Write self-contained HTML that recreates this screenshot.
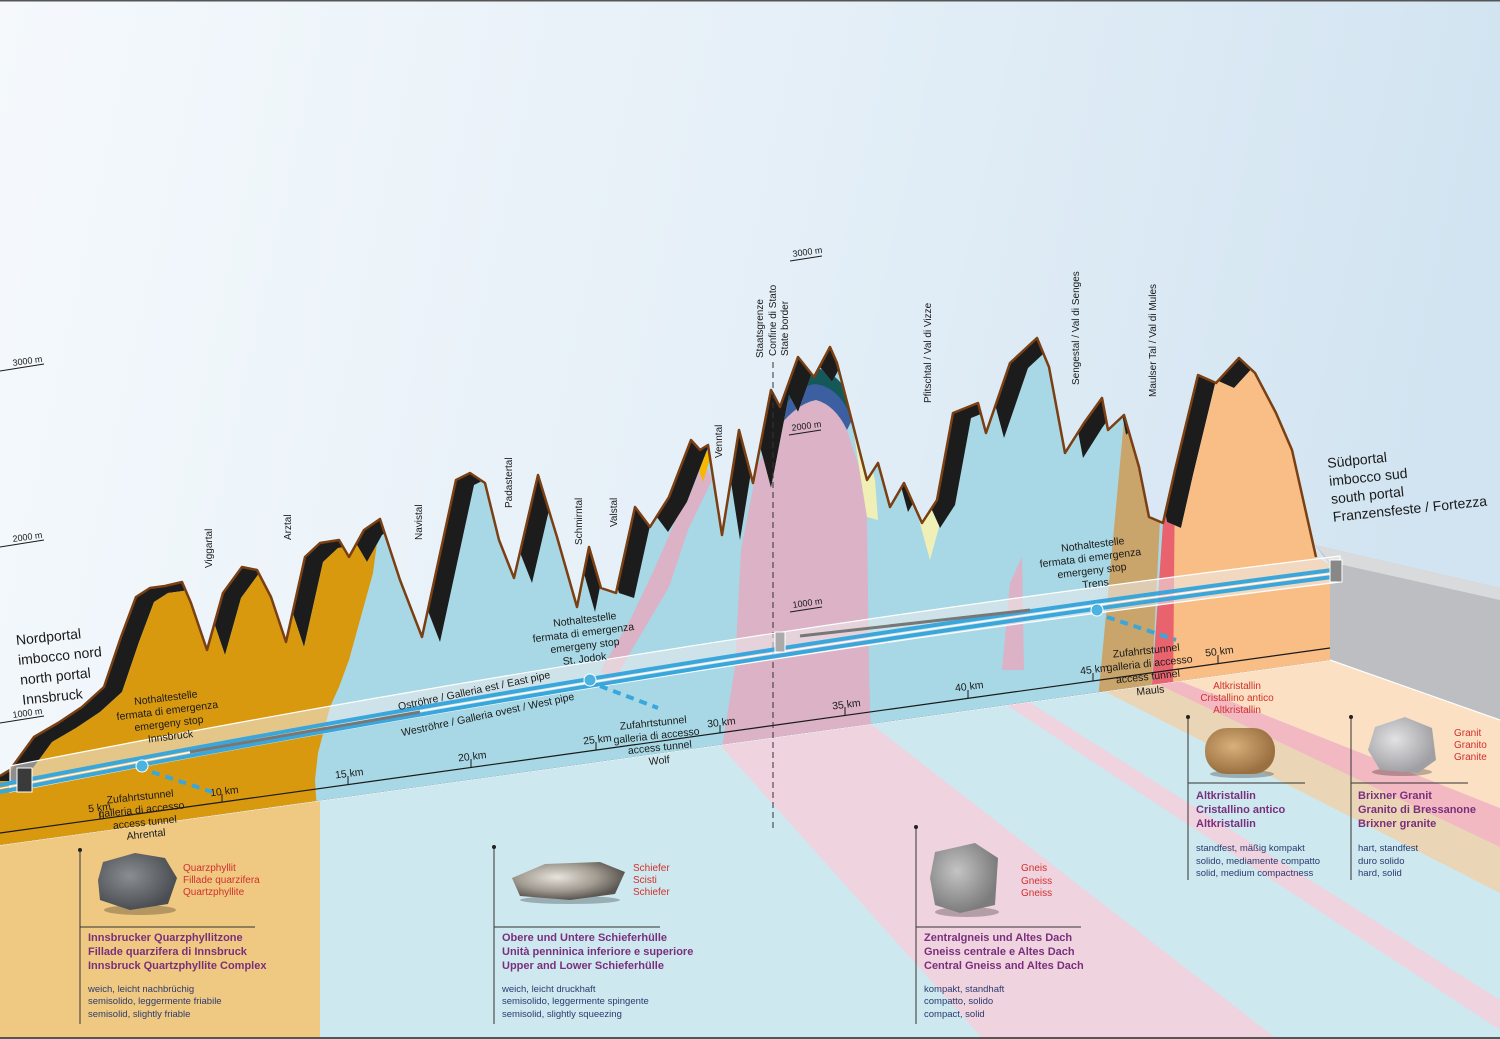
<!DOCTYPE html>
<html><head><meta charset="utf-8"><style>
html,body{margin:0;padding:0;width:1500px;height:1039px;overflow:hidden;}
svg{display:block;}
text{font-family:"Liberation Sans",sans-serif;}
.lb{font-size:10px;fill:#1a1a1a;}
.km{font-size:10.5px;fill:#1a1a1a;}
.red{font-size:10px;fill:#d2302c;}
.ttl{font-size:11px;font-weight:bold;fill:#7a2f7d;}
.dsc{font-size:9.5px;fill:#2b3b6e;}
.em{font-size:10.5px;fill:#1a1a1a;}
.port{font-size:14px;fill:#1a1a1a;}
</style></head><body>
<svg width="1500" height="1039" viewBox="0 0 1500 1039" xmlns="http://www.w3.org/2000/svg">
<defs>
<linearGradient id="sky" x1="0" y1="0" x2="1" y2="0.15">
<stop offset="0" stop-color="#f5f9fc"/><stop offset="0.5" stop-color="#e6f0f8"/><stop offset="1" stop-color="#d2e4f1"/>
</linearGradient>
<radialGradient id="rk1" cx="0.4" cy="0.4" r="0.6"><stop offset="0" stop-color="#8a8d92"/><stop offset="1" stop-color="#4a4d52"/></radialGradient>
<radialGradient id="rk2" cx="0.4" cy="0.4" r="0.6"><stop offset="0" stop-color="#e8e4dc"/><stop offset="0.6" stop-color="#a09a90"/><stop offset="1" stop-color="#5a5550"/></radialGradient>
<radialGradient id="rk3" cx="0.4" cy="0.4" r="0.6"><stop offset="0" stop-color="#c4c4c4"/><stop offset="1" stop-color="#7c7c7c"/></radialGradient>
<radialGradient id="rk4" cx="0.4" cy="0.4" r="0.6"><stop offset="0" stop-color="#d8b07a"/><stop offset="1" stop-color="#9a7040"/></radialGradient>
<radialGradient id="rk5" cx="0.4" cy="0.4" r="0.6"><stop offset="0" stop-color="#e2e2e4"/><stop offset="1" stop-color="#a0a0a4"/></radialGradient>
<clipPath id="prof"><polygon points="0,776 10,770 34,737 58,723 82,707 104,687 121,637 136,597 150,588 165,586 182,582 191,603 207,650 223,593 242,567 257,570 271,597 286,642 305,557 320,543 339,540 349,557 364,530 380,519 400,580 422,637 456,480 470,473 485,483 499,540 514,578 538,475 557,537 577,607 589,547 601,588 616,593 635,507 650,527 669,497 691,440 700,450 708,445 722,535 739,430 753,483 771,390 780,407 798,357 814,377 830,347 837,363 855,433 867,480 878,463 890,507 904,483 922,523 937,500 953,413 978,403 986,433 1010,363 1037,338 1049,367 1065,453 1084,423 1102,398 1108,430 1124,415 1139,467 1149,517 1163,523 1175,470 1198,375 1216,383 1239,358 1255,373 1276,413 1292,450 1316,557 1330,565 1330,660 0,845"/></clipPath>
<clipPath id="shift"><polygon transform="translate(18,5)" points="-60,776 0,776 10,770 34,737 58,723 82,707 104,687 121,637 136,597 150,588 165,586 182,582 191,603 207,650 223,593 242,567 257,570 271,597 286,642 305,557 320,543 339,540 349,557 364,530 380,519 400,580 422,637 456,480 470,473 485,483 499,540 514,578 538,475 557,537 577,607 589,547 601,588 616,593 635,507 650,527 669,497 691,440 700,450 708,445 722,535 739,430 753,483 771,390 780,407 798,357 814,377 830,347 837,363 855,433 867,480 878,463 890,507 904,483 922,523 937,500 953,413 978,403 986,433 1010,363 1037,338 1049,367 1065,453 1084,423 1102,398 1108,430 1124,415 1139,467 1149,517 1163,523 1175,470 1198,375 1216,383 1239,358 1255,373 1276,413 1292,450 1316,557 1500,557 1500,1039 -60,1039"/></clipPath>
</defs>

<rect width="1500" height="1039" fill="url(#sky)"/>
<rect x="0" y="0" width="1500" height="1.5" fill="#555"/>

<!-- floor -->
<polygon points="0,845 1330,660 1500,720 1500,1039 0,1039" fill="#cde8ef"/>
<polygon points="0,845 320,801 320,1039 0,1039" fill="#efc982"/>
<polygon points="720,745 871,724 1277,1039 983,1039" fill="#efd3df"/>
<polygon points="1002,702 1024,699 1500,1000 1500,1030" fill="#efd3df"/>
<polygon points="1098,688 1151,681 1500,845 1500,893" fill="#ead6b6"/>
<polygon points="1151,681 1172,678 1500,808 1500,847" fill="#f2b9c3"/>
<polygon points="1172,678 1330,660 1500,720 1500,808" fill="#fbe0c4"/>
<line x1="0" y1="845" x2="1330" y2="660" stroke="#fff" stroke-width="1.2" opacity="0.8"/>

<!-- gray end box -->
<polygon points="1315,545 1500,588 1500,720 1330,660 1330,565" fill="#bcbec1"/>
<polygon points="1315,545 1500,588 1500,600 1330,562" fill="#d8dadc"/>
<line x1="1330" y1="660" x2="1500" y2="720" stroke="#fff" stroke-width="1.2"/>

<!-- section -->
<g clip-path="url(#prof)">
<rect x="0" y="300" width="1340" height="560" fill="#1c1c1c"/>
<g clip-path="url(#shift)">
<rect x="0" y="300" width="1340" height="560" fill="#a8d8e5"/>
<polygon points="0,300 385,300 380,520 373,573 349,660 339,687 330,707 318,753 315,780 320,860 0,860" fill="#d9990f"/>
<polygon points="601,670 630,620 654,570 693,480 703,457 712,480 688,530 669,587 630,653 611,687" fill="#dbb2c6"/>
<polygon points="693,452 712,452 703,482" fill="#f6b800"/>
<polygon points="720,760 735,667 741,550 757,467 771,437 794,407 816,400 835,407 847,430 859,467 867,517 869,670 871,740" fill="#dbb2c6"/>
<path d="M768,430 Q790,385 815,382 Q840,385 852,420 L847,430 Q835,405 816,400 Q794,404 771,437 Z" fill="#3b5fa0"/>
<path d="M765,420 Q790,370 815,368 Q842,372 856,410 L852,420 Q840,387 815,384 Q792,387 768,430 Z" fill="#15585a"/>
<path d="M760,400 L790,345 L840,340 L858,400 Q842,368 815,366 Q790,368 765,420 Z" fill="#7ec0e0"/>
<polygon points="845,360 875,480 878,520 867,517 859,467 852,420" fill="#f0efb5"/>
<polygon points="915,505 945,505 930,560" fill="#f0efb5"/>
<polygon points="1002,670 1010,583 1022,557 1024,670" fill="#dbb2c6"/>
<polygon points="1098,700 1112,550 1124,420 1145,470 1160,520 1151,700" fill="#c9a46b"/>
<polygon points="1151,700 1163,523 1175,470 1178,450 1173,700" fill="#e8636e"/>
<polygon points="1173,700 1175,470 1198,370 1340,370 1340,700" fill="#f8be85"/>
</g>
</g>
<polyline fill="none" stroke="#7a3f12" stroke-width="2.5" stroke-linejoin="round" points="0,776 10,770 34,737 58,723 82,707 104,687 121,637 136,597 150,588 165,586 182,582 191,603 207,650 223,593 242,567 257,570 271,597 286,642 305,557 320,543 339,540 349,557 364,530 380,519 400,580 422,637 456,480 470,473 485,483 499,540 514,578 538,475 557,537 577,607 589,547 601,588 616,593 635,507 650,527 669,497 691,440 700,450 708,445 722,535 739,430 753,483 771,390 780,407 798,357 814,377 830,347 837,363 855,433 867,480 878,463 890,507 904,483 922,523 937,500 953,413 978,403 986,433 1010,363 1037,338 1049,367 1065,453 1084,423 1102,398 1108,430 1124,415 1139,467 1149,517 1163,523 1175,470 1198,375 1216,383 1239,358 1255,373 1276,413 1292,450 1316,557"/>

<!-- baseline -->
<line x1="0" y1="833" x2="1330" y2="648" stroke="#1a1a1a" stroke-width="1.2"/>
<g stroke="#1a1a1a" stroke-width="1">
<line x1="100" y1="819" x2="100" y2="811"/><line x1="222" y1="802" x2="222" y2="794"/><line x1="348" y1="784" x2="348" y2="776"/><line x1="471" y1="767" x2="471" y2="759"/><line x1="596" y1="750" x2="596" y2="742"/><line x1="720" y1="733" x2="720" y2="725"/><line x1="845" y1="715" x2="845" y2="707"/><line x1="968" y1="698" x2="968" y2="690"/><line x1="1093" y1="681" x2="1093" y2="673"/><line x1="1218" y1="663" x2="1218" y2="655"/>
</g>
<g class="km">
<text x="88" y="811" transform="rotate(-7 100 807)">5 km</text>
<text x="210" y="795" transform="rotate(-7 222 791)">10 km</text>
<text x="335" y="777" transform="rotate(-7 348 774)">15 km</text>
<text x="458" y="760" transform="rotate(-7 471 757)">20 km</text>
<text x="583" y="743" transform="rotate(-7 596 739)">25 km</text>
<text x="707" y="726" transform="rotate(-7 720 722)">30 km</text>
<text x="832" y="708" transform="rotate(-7 845 704)">35 km</text>
<text x="955" y="690" transform="rotate(-7 968 687)">40 km</text>
<text x="1080" y="673" transform="rotate(-7 1093 669)">45 km</text>
<text x="1205" y="655" transform="rotate(-7 1218 651)">50 km</text>
</g>
<line x1="773" y1="362" x2="773" y2="830" stroke="#333" stroke-width="1" stroke-dasharray="6,4"/>

<!-- tunnel -->
<path d="M10,766 Q650,640 1340,556 L1340,582 Q650,666 10,792 Z" fill="#ececec" fill-opacity="0.55" stroke="#fff" stroke-width="1.2"/>
<path d="M0,785 Q650,658 1340,569" fill="none" stroke="#3aa7dc" stroke-width="4"/>
<path d="M0,792 Q650,665 1340,576" fill="none" stroke="#3aa7dc" stroke-width="4"/>
<path d="M0,788.5 Q650,661.5 1340,572.5" fill="none" stroke="#fff" stroke-width="1.2"/>
<rect x="17" y="768" width="15" height="24" fill="#3a3a3a" stroke="#fff"/>
<rect x="1330" y="560" width="12" height="22" fill="#888" stroke="#fff"/>
<rect x="775" y="632" width="10" height="20" fill="#aaa" stroke="#fff"/>
<g stroke="#777" stroke-width="3" fill="none">
<line x1="190" y1="752" x2="420" y2="712"/>
<line x1="800" y1="636" x2="1030" y2="610"/>
</g>
<g fill="#4ab3e0" stroke="#fff" stroke-width="1">
<circle cx="142" cy="766" r="6"/><circle cx="590" cy="680" r="6"/><circle cx="1097" cy="610" r="6"/>
</g>
<g stroke="#3aa7dc" stroke-width="4" stroke-dasharray="8,6">
<line x1="152" y1="772" x2="212" y2="792"/><line x1="600" y1="686" x2="658" y2="708"/><line x1="1107" y1="617" x2="1176" y2="640"/>
</g>

<!-- elevation marks -->
<g font-size="9" fill="#1a1a1a">
<text x="13" y="366" transform="rotate(-8 13 366)">3000 m</text><line x1="0" y1="371" x2="44" y2="364" stroke="#1a1a1a"/>
<text x="13" y="542" transform="rotate(-8 13 542)">2000 m</text><line x1="0" y1="547" x2="44" y2="540" stroke="#1a1a1a"/>
<text x="13" y="718" transform="rotate(-8 13 718)">1000 m</text><line x1="0" y1="723" x2="44" y2="716" stroke="#1a1a1a"/>
<text x="793" y="257" transform="rotate(-8 793 257)">3000 m</text><line x1="790" y1="261" x2="822" y2="256" stroke="#1a1a1a"/>
<text x="792" y="431" transform="rotate(-8 792 431)">2000 m</text><line x1="789" y1="435" x2="821" y2="430" stroke="#1a1a1a"/>
<text x="793" y="608" transform="rotate(-8 793 608)">1000 m</text><line x1="790" y1="612" x2="822" y2="607" stroke="#1a1a1a"/>
</g>

<!-- valley labels -->
<g class="lb">
<text transform="translate(212,568) rotate(-90)">Viggartal</text>
<text transform="translate(291,540) rotate(-90)">Arztal</text>
<text transform="translate(422,540) rotate(-90)">Navistal</text>
<text transform="translate(512,508) rotate(-90)">Padastertal</text>
<text transform="translate(582,545) rotate(-90)">Schmirntal</text>
<text transform="translate(617,527) rotate(-90)">Valstal</text>
<text transform="translate(722,458) rotate(-90)">Venntal</text>
<text transform="translate(763,358) rotate(-90)">Staatsgrenze</text>
<text transform="translate(776,356) rotate(-90)">Confine di Stato</text>
<text transform="translate(788,356) rotate(-90)">State border</text>
<text transform="translate(931,403) rotate(-90)">Pfitschtal / Val di Vizze</text>
<text transform="translate(1079,385) rotate(-90)">Sengestal / Val di Senges</text>
<text transform="translate(1156,397) rotate(-90)">Maulser Tal / Val di Mules</text>
</g>

<!-- portals -->
<g class="port" transform="rotate(-6 17 650)">
<text x="17" y="645">Nordportal</text><text x="17" y="665">imbocco nord</text><text x="17" y="685">north portal</text><text x="17" y="705">Innsbruck</text>
</g>
<g class="port" transform="rotate(-6 1328 470)">
<text x="1328" y="468">Südportal</text><text x="1328" y="486">imbocco sud</text><text x="1328" y="504">south portal</text><text x="1328" y="522">Franzensfeste / Fortezza</text>
</g>

<!-- emergency stops / access tunnels -->
<g class="em" text-anchor="middle">
<g transform="rotate(-7 168 716)"><text x="168" y="701">Nothaltestelle</text><text x="168" y="714">fermata di emergenza</text><text x="168" y="727">emergeny stop</text><text x="168" y="740">Innsbruck</text></g>
<g transform="rotate(-7 585 638)"><text x="587" y="623">Nothaltestelle</text><text x="584" y="636">fermata di emergenza</text><text x="584" y="649">emergeny stop</text><text x="582" y="662">St. Jodok</text></g>
<g transform="rotate(-7 1093 563)"><text x="1095" y="548">Nothaltestelle</text><text x="1091" y="561">fermata di emergenza</text><text x="1091" y="574">emergeny stop</text><text x="1093" y="587">Trens</text></g>
<g transform="rotate(-6 142 815)"><text x="142" y="800">Zufahrtstunnel</text><text x="142" y="813">galleria di accesso</text><text x="144" y="826">access tunnel</text><text x="144" y="838">Ahrental</text></g>
<g transform="rotate(-6 657 740)"><text x="655" y="726">Zufahrtstunnel</text><text x="657" y="739">galleria di accesso</text><text x="659" y="751">access tunnel</text><text x="657" y="764">Wolf</text></g>
<g transform="rotate(-6 1148 668)"><text x="1148" y="654">Zufahrtstunnel</text><text x="1150" y="667">galleria di accesso</text><text x="1147" y="680">access tunnel</text><text x="1148" y="694">Mauls</text></g>
<g transform="rotate(-12 475 695)"><text x="475" y="694">Oströhre / Galleria est / East pipe</text></g>
<g transform="rotate(-12 488 716)"><text x="488" y="718">Weströhre / Galleria ovest / West pipe</text></g>
</g>

<!-- legends -->
<g stroke="#333" stroke-width="1">
<line x1="80" y1="850" x2="80" y2="1024"/><line x1="80" y1="927" x2="255" y2="927"/>
<line x1="494" y1="847" x2="494" y2="1024"/><line x1="494" y1="927" x2="660" y2="927"/>
<line x1="916" y1="827" x2="916" y2="1024"/><line x1="916" y1="927" x2="1081" y2="927"/>
<line x1="1188" y1="717" x2="1188" y2="880"/><line x1="1188" y1="783" x2="1305" y2="783"/>
<line x1="1351" y1="717" x2="1351" y2="880"/><line x1="1351" y1="783" x2="1468" y2="783"/>
</g>
<g fill="#222"><circle cx="80" cy="850" r="2"/><circle cx="494" cy="847" r="2"/><circle cx="916" cy="827" r="2"/><circle cx="1188" cy="717" r="2"/><circle cx="1351" cy="717" r="2"/></g>
<g opacity="0.25" fill="#000"><ellipse cx="140" cy="910" rx="36" ry="5"/><ellipse cx="570" cy="900" rx="50" ry="4"/><ellipse cx="967" cy="912" rx="32" ry="5"/><ellipse cx="1242" cy="774" rx="32" ry="4"/><ellipse cx="1402" cy="772" rx="30" ry="4"/></g>
<path d="M103,862 L135,853 L165,858 L177,878 L168,904 L130,910 L100,900 L98,880 Z" fill="url(#rk1)"/>
<path d="M512,878 L545,864 L600,862 L625,872 L615,894 L570,900 L520,896 Z" fill="url(#rk2)"/>
<path d="M935,852 L975,843 L998,858 L995,905 L960,913 L935,905 L930,878 Z" fill="url(#rk3)"/>
<rect x="1205" y="728" width="70" height="46" rx="22" fill="url(#rk4)"/>
<path d="M1375,727 L1405,717 L1432,728 L1436,760 L1418,773 L1380,770 L1368,750 Z" fill="url(#rk5)"/>

<g class="red"><text x="183" y="871">Quarzphyllit</text><text x="183" y="883">Fillade quarzifera</text><text x="183" y="895">Quartzphyllite</text></g>
<g class="red"><text x="633" y="871">Schiefer</text><text x="633" y="883">Scisti</text><text x="633" y="895">Schiefer</text></g>
<g class="red"><text x="1021" y="871">Gneis</text><text x="1021" y="884">Gneiss</text><text x="1021" y="896">Gneiss</text></g>
<g class="red" text-anchor="middle"><text x="1237" y="689">Altkristallin</text><text x="1237" y="701">Cristallino antico</text><text x="1237" y="713">Altkristallin</text></g>
<g class="red"><text x="1454" y="736">Granit</text><text x="1454" y="748">Granito</text><text x="1454" y="760">Granite</text></g>

<g class="ttl">
<text x="88" y="941">Innsbrucker Quarzphyllitzone</text><text x="88" y="955">Fillade quarzifera di Innsbruck</text><text x="88" y="969">Innsbruck Quartzphyllite Complex</text>
<text x="502" y="941">Obere und Untere Schieferhülle</text><text x="502" y="955">Unità penninica inferiore e superiore</text><text x="502" y="969">Upper and Lower Schieferhülle</text>
<text x="924" y="941">Zentralgneis und Altes Dach</text><text x="924" y="955">Gneiss centrale e Altes Dach</text><text x="924" y="969">Central Gneiss and Altes Dach</text>
<text x="1196" y="799">Altkristallin</text><text x="1196" y="813">Cristallino antico</text><text x="1196" y="827">Altkristallin</text>
<text x="1358" y="799">Brixner Granit</text><text x="1358" y="813">Granito di Bressanone</text><text x="1358" y="827">Brixner granite</text>
</g>
<g class="dsc">
<text x="88" y="992">weich, leicht nachbrüchig</text><text x="88" y="1004">semisolido, leggermente friabile</text><text x="88" y="1017">semisolid, slightly friable</text>
<text x="502" y="992">weich, leicht druckhaft</text><text x="502" y="1004">semisolido, leggermente spingente</text><text x="502" y="1017">semisolid, slightly squeezing</text>
<text x="924" y="992">kompakt, standhaft</text><text x="924" y="1004">compatto, solido</text><text x="924" y="1017">compact, solid</text>
<text x="1196" y="851">standfest, mäßig kompakt</text><text x="1196" y="864">solido, mediamente compatto</text><text x="1196" y="876">solid, medium compactness</text>
<text x="1358" y="851">hart, standfest</text><text x="1358" y="864">duro solido</text><text x="1358" y="876">hard, solid</text>
</g>
<rect x="0" y="1037" width="1500" height="2" fill="#555"/>
</svg>
</body></html>
